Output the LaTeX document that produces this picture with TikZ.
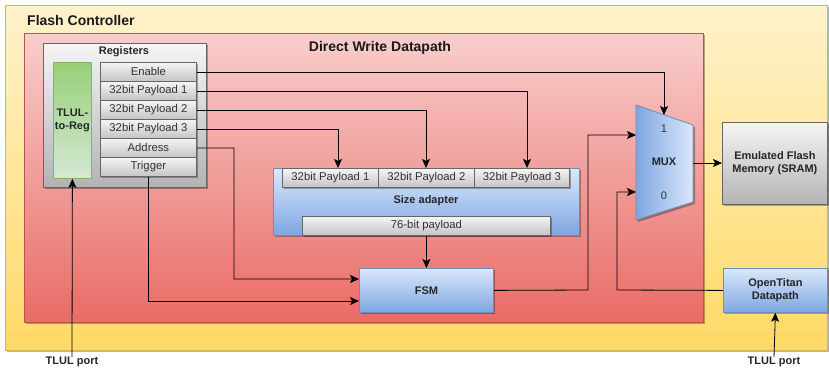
\documentclass[tikz,border=0pt]{standalone}
\usepackage{fontspec}
\setmainfont{Liberation Sans}
\usetikzlibrary{arrows.meta,shadows,calc}
\definecolor{yTop}{HTML}{FFF2CC}
\definecolor{yBot}{HTML}{FFD966}
\definecolor{yLine}{HTML}{D6B656}
\definecolor{rTop}{HTML}{F8CECC}
\definecolor{rBot}{HTML}{EA6B66}
\definecolor{rLine}{HTML}{B85450}
\definecolor{gTop}{HTML}{F5F5F5}
\definecolor{gBot}{HTML}{B3B3B3}
\definecolor{gLine}{HTML}{666666}
\definecolor{cBot}{HTML}{C4C4C4}
\definecolor{grTop}{HTML}{97D077}
\definecolor{grBot}{HTML}{D5E8D4}
\definecolor{grLine}{HTML}{82B366}
\definecolor{bTop}{HTML}{DAE8FC}
\definecolor{bBot}{HTML}{7EA6E0}
\definecolor{bLine}{HTML}{6C8EBF}
\definecolor{txt}{HTML}{333333}
\tikzset{
  box/.style={draw, rectangle, inner sep=0pt, anchor=north west, line width=0.8pt},
  shad/.style={drop shadow={shadow xshift=2pt,shadow yshift=-2pt,opacity=0.3,fill=black}},
  yellowbox/.style={box, draw=yLine, top color=yTop, bottom color=yBot},
  redbox/.style={box, draw=rLine, top color=rTop, bottom color=rBot, shad},
  greybox/.style={box, draw=gLine, top color=gTop, bottom color=gBot, shad},
  cell/.style={box, draw=gLine, top color=gTop, bottom color=cBot, text=txt, font=\fontsize{11.3}{13}\selectfont, minimum width=96pt, minimum height=19pt, shad},
  greenbox/.style={box, draw=grLine, top color=grTop, bottom color=grBot},
  bluebox/.style={box, draw=bLine, top color=bTop, bottom color=bBot, shad},
  ttl/.style={font=\bfseries\fontsize{14}{16}\selectfont, text=black!90, inner sep=0pt},
  lbl/.style={font=\bfseries\fontsize{11}{13}\selectfont, text=black!85, inner sep=0pt, align=center},
  wire/.style={line width=0.8pt, black},
  arr/.style={wire, -{Stealth[length=9pt,width=8pt,inset=2pt]}},
}
\begin{document}
\begin{tikzpicture}[x=1pt,y=-1pt]
\useasboundingbox (0,0) rectangle (829,373);
% outer boxes
\node[yellowbox, shad, minimum width=822pt, minimum height=345pt] (fc) at (5,5) {};
\node[ttl, anchor=west] (fct) at (27,20) {Flash Controller};
\node[redbox, minimum width=679pt, minimum height=289pt] (dw) at (24,33) {};
\node[ttl] (dwt) at (380,48) {Direct Write Datapath};
% registers
\node[greybox, minimum width=163pt, minimum height=144pt] (reg) at (43,43) {};
\node[lbl] (regt) at (124,52) {Registers};
\node[greenbox, minimum width=38pt, minimum height=116pt, lbl] (tl) at (53,62) {TLUL-\\to-Reg};
\node[cell] (en) at (100,62) {Enable};
\node[cell] (p1) at (100,81) {32bit Payload 1};
\node[cell] (p2) at (100,100) {32bit Payload 2};
\node[cell] (p3) at (100,119) {32bit Payload 3};
\node[cell] (ad) at (100,138) {Address};
\node[cell] (tr) at (100,157) {Trigger};
% size adapter
\node[bluebox, minimum width=306pt, minimum height=67pt] (sa) at (273,168) {};
\node[lbl] (sat) at (426,201) {Size adapter};
\node[cell] (s1) at (282,168) {32bit Payload 1};
\node[cell] (s2) at (378,168) {32bit Payload 2};
\node[cell, minimum width=95pt] (s3) at (474,168) {32bit Payload 3};
\node[cell, minimum width=248pt] (sp) at (302,216) {76-bit payload};
% FSM
\node[bluebox, minimum width=134pt, minimum height=44pt, lbl] (fsm) at (359,268) {FSM};
% MUX
\draw[draw=bLine, line width=0.8pt, left color=bBot, right color=bTop, shad]
  (636,105) -- (693,125) -- (693,202) -- (636,220) -- cycle;
\coordinate (mtop) at (664,115);
\coordinate (min1) at (636,135);
\coordinate (min0) at (636,192);
\coordinate (mout) at (693,163);
\node[lbl] (mux) at (664,162) {MUX};
\node[font=\fontsize{11}{13}\selectfont, text=txt, inner sep=0pt] (m1) at (664,129) {1};
\node[font=\fontsize{11}{13}\selectfont, text=txt, inner sep=0pt] (m0) at (664,196) {0};
% right boxes
\node[greybox, minimum width=105pt, minimum height=82pt, lbl] (ef) at (722,122) {Emulated Flash\\Memory (SRAM)};
\node[bluebox, minimum width=104pt, minimum height=44pt, lbl] (ot) at (723,268) {OpenTitan\\Datapath};
% ports
\node[lbl, anchor=north] (tp1) at (72,357) {TLUL port};
\node[lbl, anchor=north] (tp2) at (774,357) {TLUL port};
% wires
\draw[arr] (en.east) -| (mtop);
\draw[arr] (p1.east) -| (527,168);
\draw[arr] (p2.east) -| (426,168);
\draw[arr] (p3.east) -| (338,168);
\draw[arr] (ad.east) -- (234,148) |- (359,279);
\draw[arr] (tr.south) |- (359,301);
\draw[arr] (sp.south -| fsm.north) -- (fsm.north);
\draw[arr] (fsm.east) -- (588,290) |- (min1);
\draw[arr] (ot.west) -- (617,290) |- (min0);
\draw[arr] (mout) -- (ef.west |- mout);
\draw[arr] (tp1.north) -- (tl.south);
\draw[arr] (tp2.north) -- (ot.south);
\end{tikzpicture}
\end{document}
